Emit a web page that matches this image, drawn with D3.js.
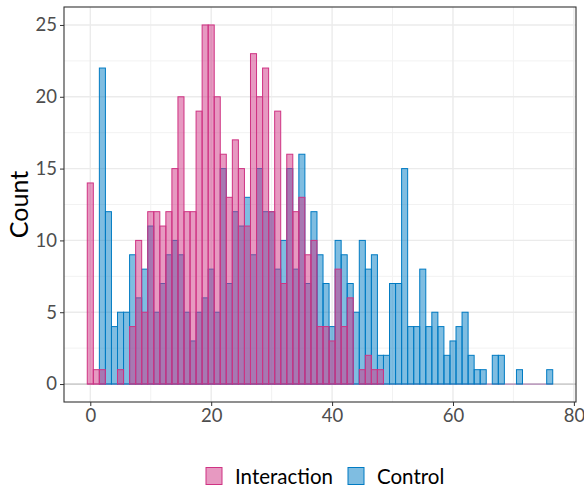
<!DOCTYPE html>
<html>
<head>
<meta charset="utf-8">
<script src="https://cdn.jsdelivr.net/npm/d3@7"></script>
<style>
  body { margin: 0; background: #fff; }
  svg { font-family: Lato, "DejaVu Sans", sans-serif; }
</style>
</head>
<body>
<div id="chart"></div>
<script>
// histogram bins (binwidth 1, centred on whole numbers)
var bins = d3.range(0, 77);

var controlCounts = [0,0,22,12,4,5,5,9,6,8,
                     11,5,7,9,10,9,5,3,5,6,
                     8,5,15,7,12,11,13,9,15,12,
                     12,8,10,15,8,16,7,12,9,7,
                     4,10,9,7,5,10,8,9,2,2,
                     7,7,15,4,4,8,4,5,4,2,
                     3,4,5,2,1,1,0,2,2,0,
                     0,1,0,0,0,0,1];

var interactionCounts = [14,1,1,0,0,1,0,4,10,5,
                         12,12,11,12,15,20,12,12,19,25,
                         25,20,16,13,17,15,11,23,20,22,
                         12,19,7,16,12,13,9,10,4,4,
                         3,8,4,6,0,1,2,1,1,0,
                         0,0,0,0,0,0,0,0,0,0,
                         0,0,0,0,0,0,0,0,0,0,
                         0,0,0,0,0,0,0];

var groups = ["Interaction", "Control"];
var xTicks = [0, 20, 40, 60, 80];
var yTicks = [0, 5, 10, 15, 20, 25];

function init() {
    var w = 584, h = 486;
    var left = 64, right = 576, top = 7, bottom = 402;

    var colors = {
        "Interaction": { fill: "rgb(207,51,131)", stroke: "rgb(207,51,131)" },
        "Control": { fill: "rgb(0,123,195)", stroke: "rgb(0,123,195)" }
    };

    var xScale = d3.scaleLinear()
        .domain([-4.35, 80.35])
        .range([left, right]);

    var yScale = d3.scaleLinear()
        .domain([-1.25, 26.25])
        .range([bottom, top]);

    var svg = d3.select("#chart")
        .append("svg")
        .attr("width", w)
        .attr("height", h);

    // minor grid
    var xMinor = [10, 30, 50, 70];
    var yMinor = [2.5, 7.5, 12.5, 17.5, 22.5];
    svg.selectAll(".xminor").data(xMinor).enter().append("line")
        .attr("x1", function(d){ return xScale(d); })
        .attr("x2", function(d){ return xScale(d); })
        .attr("y1", top).attr("y2", bottom)
        .attr("stroke", "#f2f2f2").attr("stroke-width", 1);
    svg.selectAll(".yminor").data(yMinor).enter().append("line")
        .attr("y1", function(d){ return yScale(d); })
        .attr("y2", function(d){ return yScale(d); })
        .attr("x1", left).attr("x2", right)
        .attr("stroke", "#f2f2f2").attr("stroke-width", 1);

    // major grid
    svg.selectAll(".xmajor").data(xTicks).enter().append("line")
        .attr("x1", function(d){ return xScale(d); })
        .attr("x2", function(d){ return xScale(d); })
        .attr("y1", top).attr("y2", bottom)
        .attr("stroke", "#ebebeb").attr("stroke-width", 1.4);
    svg.selectAll(".ymajor").data(yTicks).enter().append("line")
        .attr("y1", function(d){ return yScale(d); })
        .attr("y2", function(d){ return yScale(d); })
        .attr("x1", left).attr("x2", right)
        .attr("stroke", "#ebebeb").attr("stroke-width", 1.4);

    // zero line
    svg.append("line")
        .attr("x1", left).attr("x2", right)
        .attr("y1", yScale(0)).attr("y2", yScale(0))
        .attr("stroke", "#c4c4c4").attr("stroke-width", 1.2);
    svg.append("line")
        .attr("x1", xScale(-0.5)).attr("x2", xScale(76.5))
        .attr("y1", yScale(0)).attr("y2", yScale(0))
        .attr("stroke", "#b98fbc").attr("stroke-width", 1.2);

    // bars: Control underneath, Interaction on top
    function drawBars(counts, name) {
        var data = bins.map(function(b, i){ return { bin: b, n: counts[i] }; })
                       .filter(function(d){ return d.n > 0; });
        svg.append("g").selectAll("rect")
            .data(data)
            .enter()
            .append("rect")
            .attr("x", function(d){ return xScale(d.bin - 0.5); })
            .attr("width", function(d){ return xScale(d.bin + 0.5) - xScale(d.bin - 0.5); })
            .attr("y", function(d){ return yScale(d.n); })
            .attr("height", function(d){ return yScale(0) - yScale(d.n); })
            .attr("fill", colors[name].fill)
            .attr("fill-opacity", 0.5)
            .attr("stroke", colors[name].stroke)
            .attr("stroke-width", 1);
    }
    drawBars(controlCounts, "Control");
    drawBars(interactionCounts, "Interaction");

    // panel border
    svg.append("rect")
        .attr("x", left).attr("y", top)
        .attr("width", right - left).attr("height", bottom - top)
        .attr("fill", "none")
        .attr("stroke", "#333")
        .attr("stroke-width", 1.1);

    // axes
    var xAxis = d3.axisBottom(xScale)
        .tickValues(xTicks)
        .tickSize(4)
        .tickPadding(3);
    var yAxis = d3.axisLeft(yScale)
        .tickValues(yTicks)
        .tickSize(4)
        .tickPadding(3);

    var gx = svg.append("g")
        .attr("transform", "translate(0," + bottom + ")")
        .call(xAxis);
    var gy = svg.append("g")
        .attr("transform", "translate(" + left + ",0)")
        .call(yAxis);

    [gx, gy].forEach(function(g){
        g.select(".domain").remove();
        g.selectAll(".tick line").attr("stroke", "#333");
        g.selectAll(".tick text")
            .attr("fill", "#4d4d4d")
            .style("font-size", "18.5px")
            .style("font-family", "Lato");
    });

    // y label
    svg.append("text")
        .attr("transform", "translate(28," + ((top + bottom) / 2) + ") rotate(-90)")
        .attr("text-anchor", "middle")
        .style("font-size", "25px")
        .style("font-family", "Lato")
        .attr("fill", "#000")
        .text("Count");

    // legend
    var legend = svg.append("g").attr("transform", "translate(0,476)");
    var legendItems = [
        { name: "Interaction", kx: 206, tx: 235 },
        { name: "Control", kx: 348, tx: 377 }
    ];
    legendItems.forEach(function(it){
        legend.append("rect")
            .attr("x", it.kx).attr("y", -8.5)
            .attr("width", 16).attr("height", 17)
            .attr("fill", colors[it.name].fill)
            .attr("fill-opacity", 0.5)
            .attr("stroke", colors[it.name].stroke)
            .attr("stroke-width", 1);
        legend.append("text")
            .attr("x", it.tx).attr("y", 7.5)
            .style("font-size", "20.5px")
            .style("font-family", "Lato")
            .attr("fill", "#000")
            .text(it.name);
    });
}

window.onload = init;
</script>
</body>
</html>
